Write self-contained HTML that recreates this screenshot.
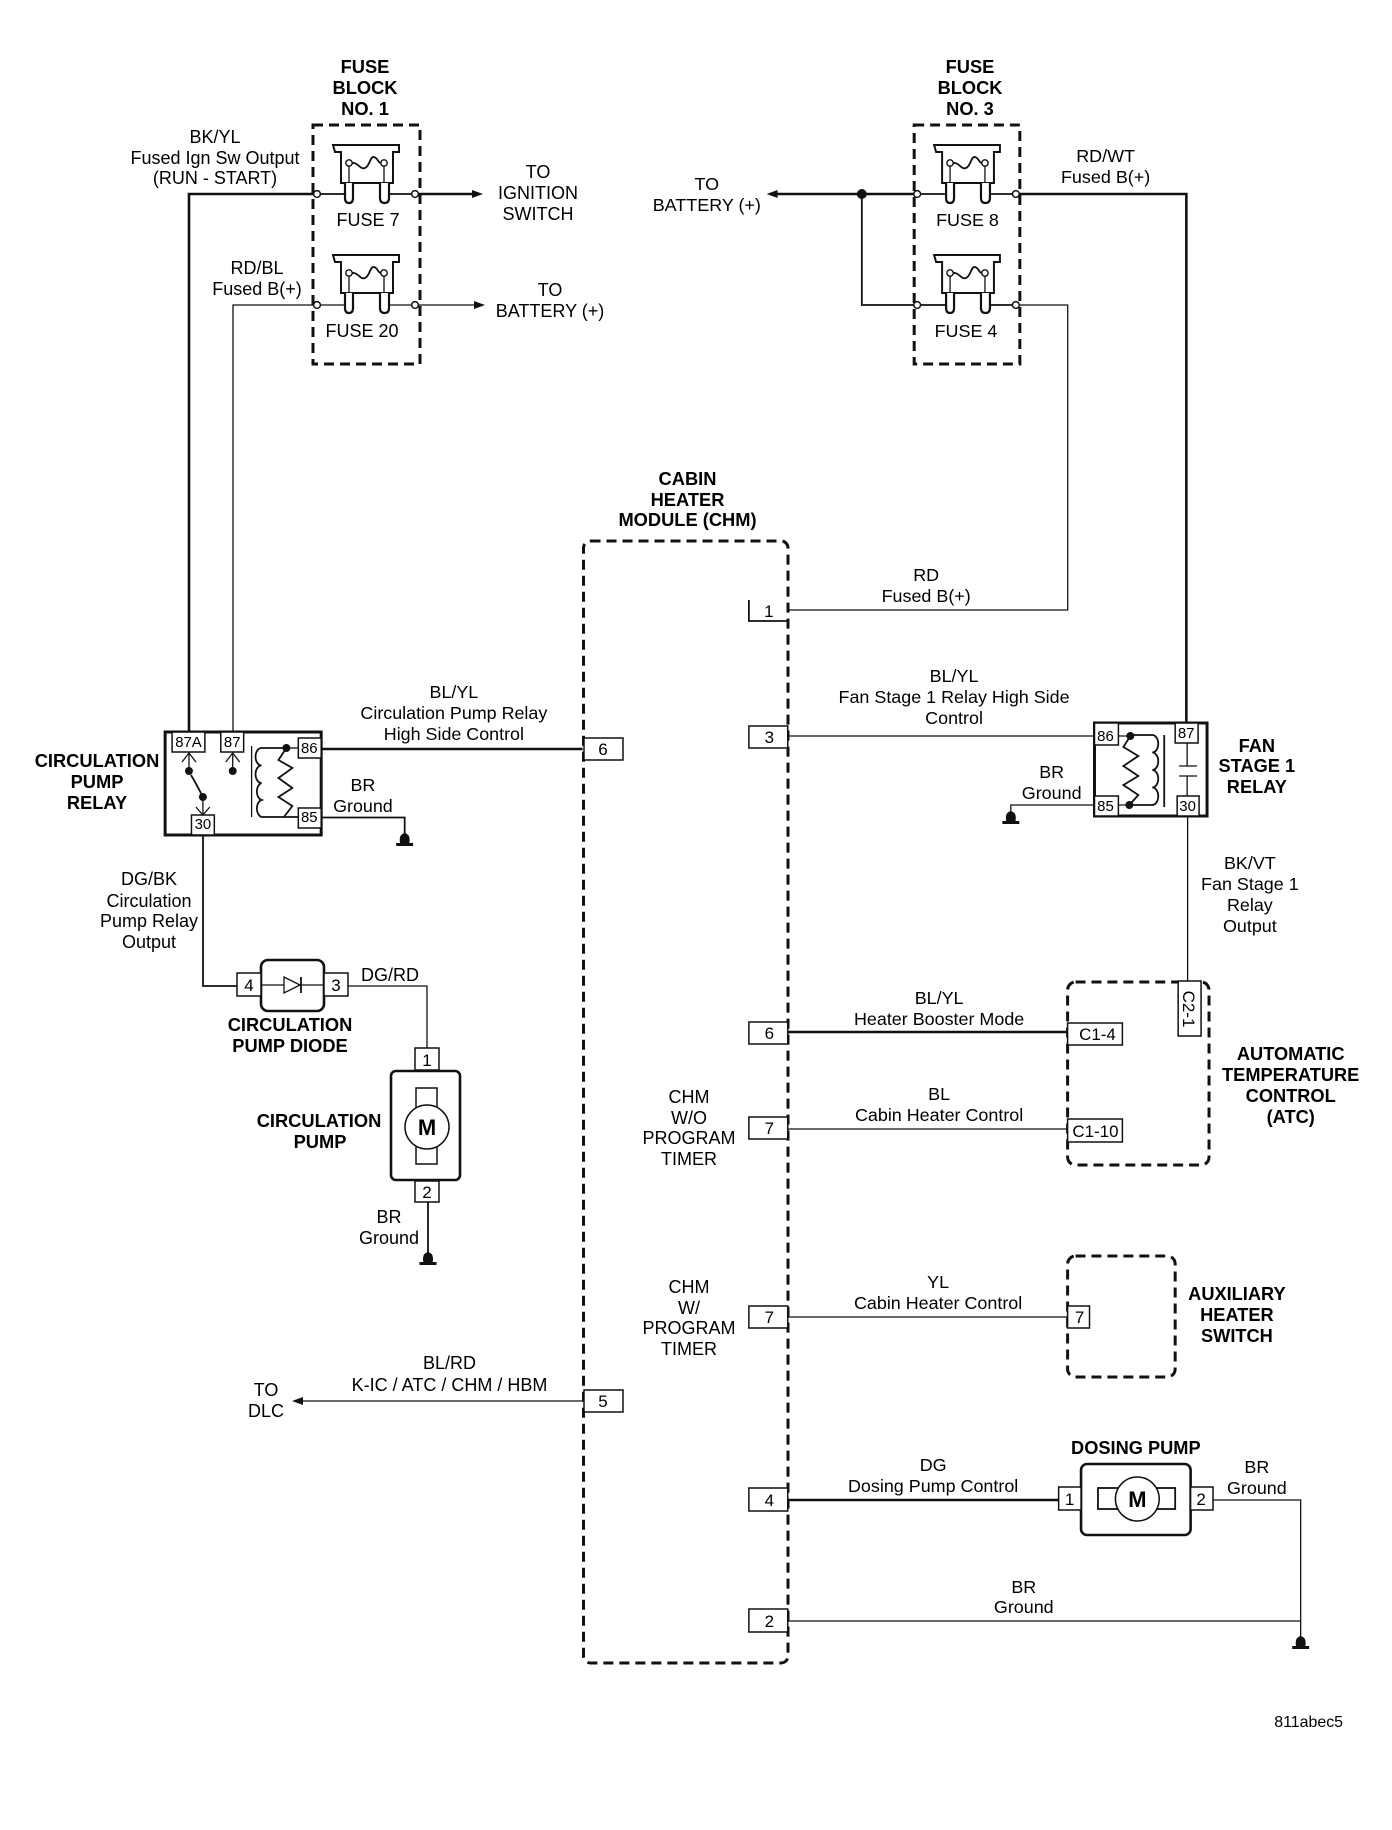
<!DOCTYPE html>
<html><head><meta charset="utf-8"><title>Cabin Heater Module wiring</title>
<style>
html,body{margin:0;padding:0;background:#fff}
svg{display:block}
text{font-family:"Liberation Sans",sans-serif;font-size:18px;fill:#000;text-anchor:middle}
.b{font-weight:bold;font-size:18.3px}
.s{font-size:15px}
.p{font-size:17px}
.l{fill:none;stroke:#111;stroke-width:1.3}
.t{fill:none;stroke:#111;stroke-width:2.6}
.m{fill:none;stroke:#111;stroke-width:1.8}
.d{fill:none;stroke:#111;stroke-width:3;stroke-dasharray:10 6}
.box{fill:#fff;stroke:#111;stroke-width:1.5}
.f{fill:#111;stroke:none}
</style></head><body>
<svg width="1392" height="1830" viewBox="0 0 1392 1830" xmlns="http://www.w3.org/2000/svg">
<defs>
<g id="fuse">
<path fill="none" stroke="#111" stroke-width="2" d="M333 145H399V152H393V183H341V152H335Z"/>
<path fill="#fff" stroke="#111" stroke-width="2.200" d="M345 183V198Q345 203 349 203Q353 203 353 198V183M380 183V198Q380 203 384.500 203Q389 203 389 198V183"/>
<path class="l" d="M349 166V183M384 166V183"/>
<path class="m" d="M352 163C358 162 360 170 365 168C370 166 370 156 374 157C378 158 378 163 381 163"/>
<circle cx="349" cy="163" r="3.200" fill="#fff" stroke="#111" stroke-width="1.400"/>
<circle cx="384" cy="163" r="3.200" fill="#fff" stroke="#111" stroke-width="1.400"/>
</g>
<g id="gnd">
<path class="f" d="M-5 1Q-5 -5 0 -6Q5 -5 5 1Q5 4 4 5H-4Q-5 4 -5 1Z"/>
<rect class="f" x="-8.500" y="4" width="17" height="3"/>
</g>
</defs>

<!-- Fuse block 1 -->
<rect class="d" x="313" y="125" width="107" height="239"/>
<use href="#fuse"/>
<use href="#fuse" y="110"/>
<path class="t" d="M189 732V194H315"/>
<path class="m" d="M319 194H345M389 194H413"/>
<path class="t" d="M417 194H475"/>
<path class="f" d="M483 194L472 190V198Z"/>
<path class="l" d="M233 732V305H315M319 305H345M389 305H413M417 305H478"/>
<path class="f" d="M485 305L474 301V309Z"/>
<g fill="#fff" stroke="#111" stroke-width="1.500">
<circle cx="317" cy="194" r="3.400"/><circle cx="415" cy="194" r="3.400"/><circle cx="317" cy="305" r="3.400"/><circle cx="415" cy="305" r="3.400"/>
</g>
<text class="b" x="365" y="73">FUSE</text><text class="b" x="365" y="94">BLOCK</text><text class="b" x="365" y="115">NO. 1</text>
<text x="215" y="143">BK/YL</text><text x="215" y="164">Fused Ign Sw Output</text><text x="215" y="184">(RUN - START)</text>
<text x="538" y="178">TO</text><text x="538" y="199">IGNITION</text><text x="538" y="220">SWITCH</text>
<text x="368" y="226">FUSE 7</text>
<text x="257" y="274">RD/BL</text><text x="257" y="295">Fused B(+)</text>
<text x="550" y="296">TO</text><text x="550" y="317">BATTERY (+)</text>
<text x="362" y="337">FUSE 20</text>

<!-- Fuse block 3 -->
<g transform="translate(640 0) scale(.997 1) translate(-640 0)">
<rect class="d" x="915" y="125" width="106" height="239"/>
<use href="#fuse" x="602"/>
<use href="#fuse" x="602" y="110"/>
<path class="t" d="M775 194H916"/>
<path class="f" d="M767 194L778 190V198Z"/>
<path class="m" d="M920 194H947M991 194H1015"/>
<path class="t" d="M1019 194H1188V723"/>
<path class="m" d="M862.500 194V305H916M920 305H947M991 305H1015"/>
<path class="l" d="M1019 305H1069V610H788"/>
<circle class="f" cx="862.500" cy="194" r="5"/>
<g fill="#fff" stroke="#111" stroke-width="1.500">
<circle cx="918" cy="194" r="3.400"/><circle cx="1017" cy="194" r="3.400"/><circle cx="918" cy="305" r="3.400"/><circle cx="1017" cy="305" r="3.400"/>
</g>
<text class="b" x="971" y="73">FUSE</text><text class="b" x="971" y="94">BLOCK</text><text class="b" x="971" y="115">NO. 3</text>
<text x="1107" y="162">RD/WT</text><text x="1107" y="183">Fused B(+)</text>
<text x="707" y="190">TO</text><text x="707" y="211">BATTERY (+)</text>
<text x="968.500" y="226">FUSE 8</text>
<text x="967" y="337">FUSE 4</text>
</g>

<!-- CHM -->
<rect class="d" x="583.500" y="541" width="204.500" height="1122" rx="7"/>
<text class="b" x="687.500" y="485">CABIN</text><text class="b" x="687.500" y="506">HEATER</text><text class="b" x="687.500" y="526">MODULE (CHM)</text>

<path class="l" d="M584 1401H300"/>
<path class="f" d="M292 1401L303 1397V1405Z"/>
<rect class="box" x="584" y="738" width="39" height="22"/><text class="p" x="603" y="755">6</text>
<rect class="box" x="584" y="1390" width="39" height="22"/><text class="p" x="603" y="1407">5</text>

<!-- Circulation pump relay -->
<text class="b" x="97" y="767">CIRCULATION</text><text class="b" x="97" y="788">PUMP</text><text class="b" x="97" y="809">RELAY</text>
<g transform="translate(20 0) scale(.994 1) translate(-20 0)">
<path class="t" d="M323 749H586"/>
<rect x="166" y="732" width="157" height="103" fill="#fff" stroke="#111" stroke-width="3"/>
<rect class="box" x="173" y="732" width="33" height="20"/><text class="s" x="189.500" y="747">87A</text>
<rect class="box" x="222" y="732" width="23" height="20"/><text class="s" x="233.500" y="747">87</text>
<rect class="box" x="300" y="738" width="23" height="20"/><text class="s" x="311" y="753">86</text>
<rect class="box" x="300" y="808" width="23" height="20"/><text class="s" x="311" y="822">85</text>
<rect class="box" x="192.500" y="815" width="23" height="20"/><text class="s" x="204" y="829">30</text>
<path class="l" d="M190 752V771M183 762L190 753L197 762M234 752V771M227 762L234 753L241 762"/>
<path class="m" d="M192 775Q198 785 204 797"/>
<path class="l" d="M204 797V815M197 807L204 815L211 807"/>
<circle class="f" cx="190" cy="771" r="4"/><circle class="f" cx="234" cy="771" r="4"/><circle class="f" cx="204" cy="797" r="4"/>
<path class="l" d="M253 746V817"/>
<path class="m" d="M288 748H263A6 8.700 0 0 0 263 765.500A6 8.700 0 0 0 263 783A6 8.700 0 0 0 263 800A6 8.700 0 0 0 263 817H300"/>
<path class="m" d="M288 748L280 760L294 768L280 778L294 788L280 797L294 806L285.500 817"/>
<path class="l" d="M288 748H300"/>
<circle class="f" cx="288" cy="748" r="4"/>
<path class="m" d="M323 817.500H407V839"/>
<use href="#gnd" x="407" y="839"/>
<text x="456.500" y="698">BL/YL</text><text x="456.500" y="719">Circulation Pump Relay</text><text x="456.500" y="740">High Side Control</text>
<text x="365" y="791">BR</text><text x="365" y="812">Ground</text>
</g>
<text x="149" y="885">DG/BK</text><text x="149" y="907">Circulation</text><text x="149" y="927">Pump Relay</text><text x="149" y="948">Output</text>

<!-- Diode -->
<path class="m" d="M203 835V986H238"/>
<rect x="261" y="960" width="63" height="51" rx="7" fill="#fff" stroke="#111" stroke-width="2.600"/>
<rect class="box" x="237" y="973" width="24" height="23"/><text class="p" x="249" y="991">4</text>
<rect class="box" x="324" y="973" width="24" height="23"/><text class="p" x="336" y="991">3</text>
<path class="l" d="M262 985H324"/>
<path d="M284 977L300 985L284 993Z" fill="#fff" stroke="#111" stroke-width="1.300"/>
<path class="m" d="M301 977V993"/>
<path class="l" d="M348 986H427V1048"/>
<text x="390" y="981">DG/RD</text>
<text class="b" x="290" y="1031">CIRCULATION</text><text class="b" x="290" y="1052">PUMP DIODE</text>

<!-- Circulation pump -->
<rect class="box" x="415" y="1048" width="24" height="22"/><text class="p" x="427" y="1066">1</text>
<rect x="391" y="1071" width="69" height="109" rx="5" fill="#fff" stroke="#111" stroke-width="2.600"/>
<rect class="box" x="416" y="1088" width="21" height="76"/>
<circle cx="427" cy="1127" r="22" fill="#fff" stroke="#111" stroke-width="1.500"/>
<text class="b" x="427" y="1135" style="font-size:22px">M</text>
<rect class="box" x="415" y="1181" width="24" height="21"/><text class="p" x="427" y="1198">2</text>
<path class="m" d="M428 1202V1258"/>
<use href="#gnd" x="428" y="1258"/>
<text class="b" x="319" y="1127">CIRCULATION</text><text class="b" x="320" y="1148">PUMP</text>
<text x="389" y="1223">BR</text><text x="389" y="1244">Ground</text>

<text class="b" x="689" y="1103" style="font-weight:normal;font-size:18px">CHM</text><text x="689" y="1124">W/O</text><text x="689" y="1144">PROGRAM</text><text x="689" y="1165">TIMER</text>
<text x="689" y="1293">CHM</text><text x="689" y="1314">W/</text><text x="689" y="1334">PROGRAM</text><text x="689" y="1355">TIMER</text>
<text x="449.500" y="1369">BL/RD</text><text x="449.500" y="1391">K-IC / ATC / CHM / HBM</text>
<text x="266" y="1396">TO</text><text x="266" y="1417">DLC</text>

<!-- Right side group -->
<g transform="translate(720 0) scale(.996 1) translate(-720 0)">
<path class="l" d="M788 736H1096"/>
<path class="t" d="M788 1032H1069"/>
<path class="l" d="M788 1129H1069"/>
<path class="l" d="M788 1317H1069"/>
<path class="t" d="M788 1500H1060"/>
<path class="l" d="M788 1621H1303"/>
<path class="l" d="M1215 1500H1303V1642"/>

<path class="m" d="M749 600V621H788"/><text class="p" x="769" y="617">1</text>
<rect class="box" x="749" y="726" width="39" height="22"/><text class="p" x="769.500" y="743">3</text>
<rect class="box" x="749" y="1022" width="39" height="22"/><text class="p" x="769.500" y="1039">6</text>
<rect class="box" x="749" y="1117" width="39" height="22"/><text class="p" x="769.500" y="1134">7</text>
<rect class="box" x="749" y="1306" width="39" height="22"/><text class="p" x="769.500" y="1323">7</text>
<rect class="box" x="749" y="1488" width="39" height="23"/><text class="p" x="769.500" y="1506">4</text>
<rect class="box" x="749" y="1609" width="39" height="23"/><text class="p" x="769.500" y="1627">2</text>

<!-- Fan stage 1 relay -->
<path class="l" d="M1189.500 816V981"/>
<rect x="1096" y="723" width="113" height="93" fill="#fff" stroke="#111" stroke-width="3"/>
<rect class="box" x="1096" y="723" width="24" height="22"/><text class="s" x="1107" y="741">86</text>
<rect class="box" x="1096" y="796" width="24" height="20"/><text class="s" x="1107" y="811">85</text>
<rect class="box" x="1177" y="723" width="23" height="20"/><text class="s" x="1188" y="738">87</text>
<rect class="box" x="1179" y="796" width="22" height="20"/><text class="s" x="1189.500" y="811">30</text>
<path class="l" d="M1120 736H1132M1120 805H1131M1189 743V766M1189 776V796M1181 766H1199M1181 776H1199"/>
<path class="m" d="M1132 736L1125 747L1140 756L1125 766L1140 776L1125 785L1140 795L1131 805"/>
<path class="m" d="M1132 735H1154A6 8.750 0 0 1 1154 752.500A6 8.750 0 0 1 1154 770A6 8.750 0 0 1 1154 787.500A6 8.750 0 0 1 1154 805H1131"/>
<path class="m" d="M1166 735V807"/>
<circle class="f" cx="1132" cy="736" r="4"/><circle class="f" cx="1131" cy="805" r="4"/>
<path class="l" d="M1096 805H1012V817"/>
<use href="#gnd" x="1012" y="817"/>
<text x="955" y="682">BL/YL</text><text x="955" y="703">Fan Stage 1 Relay High Side</text><text x="955" y="724">Control</text>
<text class="b" x="1259" y="752">FAN</text><text class="b" x="1259" y="772">STAGE 1</text><text class="b" x="1259" y="793">RELAY</text>
<text x="1053" y="778">BR</text><text x="1053" y="799">Ground</text>
<text x="1252" y="869">BK/VT</text><text x="1252" y="890">Fan Stage 1</text><text x="1252" y="911">Relay</text><text x="1252" y="932">Output</text>
<text x="927" y="581">RD</text><text x="927" y="602">Fused B(+)</text>

<!-- ATC -->
<rect class="d" x="1069" y="982" width="142" height="183" rx="8"/>
<rect class="box" x="1180" y="981" width="23" height="55"/>
<text class="p" transform="translate(1185,1009) rotate(90)">C2-1</text>
<rect class="box" x="1069" y="1023" width="55" height="22"/><text class="p" x="1099" y="1040">C1-4</text>
<rect class="box" x="1069" y="1119" width="55" height="23"/><text class="p" x="1097" y="1137">C1-10</text>
<text x="940" y="1004">BL/YL</text><text x="940" y="1025">Heater Booster Mode</text>
<text x="940" y="1100">BL</text><text x="940" y="1121">Cabin Heater Control</text>
<text class="b" x="1293" y="1060">AUTOMATIC</text><text class="b" x="1293" y="1081">TEMPERATURE</text><text class="b" x="1293" y="1102">CONTROL</text><text class="b" x="1293" y="1123">(ATC)</text>

<!-- Aux heater switch -->
<rect class="d" x="1069" y="1256" width="108" height="121" rx="8"/>
<rect class="box" x="1069" y="1306" width="22" height="22"/><text class="p" x="1081" y="1323">7</text>
<text x="939" y="1288">YL</text><text x="939" y="1309">Cabin Heater Control</text>
<text class="b" x="1239" y="1300">AUXILIARY</text><text class="b" x="1239" y="1321">HEATER</text><text class="b" x="1239" y="1342">SWITCH</text>

<!-- Dosing pump -->
<rect x="1082.500" y="1464" width="110" height="71" rx="6" fill="#fff" stroke="#111" stroke-width="2.600"/>
<rect class="box" x="1060" y="1487" width="22.500" height="23"/><text class="p" x="1071" y="1505">1</text>
<rect class="box" x="1192.500" y="1487" width="22.500" height="23"/><text class="p" x="1203" y="1505">2</text>
<rect class="m" x="1099.500" y="1488" width="77.500" height="21" fill="#fff"/>
<ellipse cx="1139" cy="1499" rx="22" ry="22" fill="#fff" stroke="#111" stroke-width="1.500"/>
<text class="b" x="1139" y="1507" style="font-size:22px">M</text>
<text class="b" x="1137.500" y="1454">DOSING PUMP</text>
<text x="934" y="1471">DG</text><text x="934" y="1492">Dosing Pump Control</text>
<text x="1259" y="1473">BR</text><text x="1259" y="1494">Ground</text>
<text x="1025" y="1593">BR</text><text x="1025" y="1613">Ground</text>
<use href="#gnd" x="1303" y="1642"/>

<text x="1311" y="1727" style="font-size:16px">811abec5</text>
</g>
</svg>
</body></html>
